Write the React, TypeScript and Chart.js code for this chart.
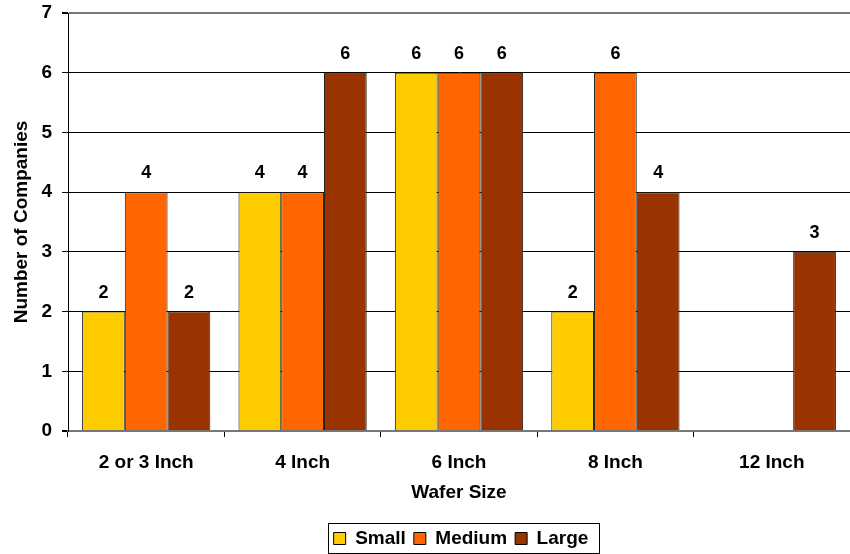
import React, { useEffect, useRef } from "react";
import { Chart, registerables } from "chart.js";

Chart.register(...registerables);

const categories = ["2 or 3 Inch", "4 Inch", "6 Inch", "8 Inch", "12 Inch"];
const smallValues = [2, 4, 6, 2, 0];
const mediumValues = [4, 4, 6, 6, 0];
const largeValues = [2, 6, 6, 4, 3];
const seriesNames = ["Small", "Medium", "Large"];
const seriesColors = ["#FFCC00", "#FF6600", "#993300"];
const FONT = "'Liberation Sans', Arial, sans-serif";

const valueLabels = {
  id: "valueLabels",
  afterDatasetsDraw(chart: any) {
    const ctx = chart.ctx;
    ctx.save();
    ctx.font = `bold 18px ${FONT}`;
    ctx.fillStyle = "#000";
    ctx.textAlign = "center";
    ctx.textBaseline = "bottom";
    chart.data.datasets.forEach((ds: any, i: number) => {
      const meta = chart.getDatasetMeta(i);
      meta.data.forEach((el: any, j: number) => {
        const v = ds.data[j];
        if (!v) return;
        ctx.fillText(String(v), el.x, el.y - 10);
      });
    });
    ctx.restore();
  },
};

const legendShift = {
  id: "legendShift",
  afterLayout(chart: any) {
    const lg = chart.legend;
    if (!lg) return;
    lg.left += 36;
    lg.right += 36;
    lg.top += 4;
    lg.bottom += 4;
  },
};

const legendBorder = {
  id: "legendBorder",
  afterDraw(chart: any) {
    const lg = chart.legend;
    if (!lg || !lg.legendHitBoxes || !lg.legendHitBoxes.length) return;
    const boxes = lg.legendHitBoxes;
    let l = Infinity, r = -Infinity, t = Infinity, b = -Infinity;
    boxes.forEach((h: any) => {
      l = Math.min(l, h.left);
      r = Math.max(r, h.left + h.width);
      t = Math.min(t, h.top);
      b = Math.max(b, h.top + h.height);
    });
    const ctx = chart.ctx;
    ctx.save();
    ctx.strokeStyle = "#000";
    ctx.lineWidth = 1;
    ctx.strokeRect(Math.round(l - 6) + 0.5, Math.round(t - 6) + 0.5, Math.round(r - l + 16), Math.round(b - t + 11));
    ctx.restore();
  },
};

export default function App() {
  const ref = useRef<HTMLCanvasElement | null>(null);
  useEffect(() => {
    if (!ref.current) return;
    const chart = new Chart(ref.current, {
      type: "bar",
      data: {
        labels: categories,
        datasets: [smallValues, mediumValues, largeValues].map((d, i) => ({
          label: seriesNames[i],
          data: d,
          backgroundColor: seriesColors[i],
          borderColor: "#222",
          borderWidth: 1,
          categoryPercentage: 0.82,
          barPercentage: 1.0,
        })),
      },
      options: {
        responsive: false,
        animation: false,
        devicePixelRatio: 1,
        layout: { padding: { top: 13, right: 0, left: 0, bottom: 0 } },
        plugins: {
          tooltip: { enabled: false },
          legend: {
            position: "bottom",
            labels: {
              boxWidth: 12,
              boxHeight: 12,
              padding: 8,
              color: "#000",
              font: { family: FONT, size: 19, weight: "bold" },
              generateLabels: (c: any) =>
                c.data.datasets.map((ds: any, i: number) => ({
                  text: ds.label,
                  fillStyle: ds.backgroundColor,
                  strokeStyle: "#000",
                  lineWidth: 1,
                  datasetIndex: i,
                  fontColor: "#000",
                })),
            },
          },
        },
        scales: {
          x: {
            grid: {
              offset: true,
              drawOnChartArea: false,
              drawTicks: true,
              tickLength: 6,
              color: "#000",
            },
            border: { color: "#777", width: 2 },
            ticks: {
              color: "#000",
              font: { family: FONT, size: 19, weight: "bold" },
              padding: 14,
            },
            title: {
              display: true,
              text: "Wafer Size",
              color: "#000",
              font: { family: FONT, size: 19, weight: "bold" },
              padding: { top: 8, bottom: 13 },
            },
            afterFit: (s: any) => {
              s.height = 86;
            },
          },
          y: {
            min: 0,
            max: 7,
            ticks: {
              stepSize: 1,
              color: "#000",
              font: { family: FONT, size: 19, weight: "bold" },
              padding: 10,
            },
            grid: {
              color: (c: any) => (c.tick && (c.tick.value === 7 || c.tick.value === 0) ? "#777" : "#000"),
              lineWidth: (c: any) => (c.tick && (c.tick.value === 7 || c.tick.value === 0) ? 2 : 1),
              tickLength: 6,
              tickColor: "#000",
            },
            border: { color: "#000", width: 1 },
            title: {
              display: true,
              text: "Number of Companies",
              color: "#000",
              font: { family: FONT, size: 19, weight: "bold" },
              padding: { top: 10, bottom: 4 },
            },
            afterFit: (s: any) => {
              s.width = 68;
              s.paddingTop = 0;
              s.paddingBottom = 0;
            },
          },
        },
      },
      plugins: [valueLabels, legendShift, legendBorder],
    });
    return () => chart.destroy();
  }, []);
  return (
    <div style={{ position: "absolute", left: 0, top: 0, width: 850, height: 554, background: "#fff" }}>
      <canvas ref={ref} width={850} height={554} style={{ width: 850, height: 554 }} />
    </div>
  );
}
